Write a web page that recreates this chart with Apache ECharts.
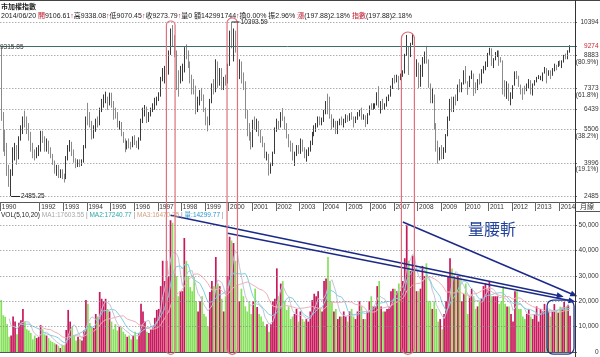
<!DOCTYPE html>
<html><head><meta charset="utf-8">
<script src="https://cdn.jsdelivr.net/npm/echarts@6/dist/echarts.min.js"></script>
<style>html,body{margin:0;padding:0;background:#fff}#c{width:600px;height:357px}</style>
</head><body><div id="c"></div>
<script>
// ---- data: monthly bars from 1990/05 to 2014/06 ----
const startYear = 1990, startMonth = 5, emptySlots = 2;
const firstOpen = 9000;
const monthClose = [
 6100,4800,4600,3600,3150,3500,4400,4530,
 4200,5150,5500,5900,5800,5500,5300,4700,4400,4300,4500,4600,
 5300,5100,4600,4900,4500,4300,4000,3600,3800,3450,3600,3377,
 3300,4200,4600,4850,4500,4100,3900,4050,3900,4050,4700,6070,
 6000,5800,5300,5500,5900,5750,6400,6700,6900,6950,6650,7124,
 6700,6300,6200,5700,5800,5300,5000,4700,4900,4800,4750,5173,
 4900,4700,5050,5900,6300,6450,5900,6200,6400,6500,6800,6933,
 7000,7800,8000,8050,8100,9000,9800,9600,9000,7800,7700,8187,
 8200,9100,8900,8500,7900,7500,7400,6600,6800,7100,7000,6418,
 5900,5800,6800,7500,7300,8400,7700,8100,7600,7800,7700,8448,
 9700,9400,9900,9300,8200,8300,7700,7600,6200,5500,5300,4739,
 5900,5600,5800,5400,5000,4800,4300,4400,3600,3900,4400,5551,
 5800,5700,6200,6000,5700,5200,4900,4800,4200,4400,4700,4452,
 5000,4600,4300,4500,4550,4900,5300,5600,5650,6000,5800,5890,
 6300,6700,6500,6100,5700,5800,5400,5800,5850,5700,5850,6140,
 5900,6200,6000,5800,6000,6200,6300,6000,6100,5800,6200,6548,
 6500,6600,6610,7100,6600,6700,6500,6600,6900,7000,7400,7823,
 7700,7900,7880,7900,8100,8900,9300,8900,9400,9700,8500,8506,
 7500,8400,8600,8900,8600,7500,7000,7050,5700,4900,4460,4591,
 4248,4557,5211,5992,6890,6432,6936,6826,7509,7340,7582,8188,
 7640,7436,7920,8004,7374,7329,7760,7616,8238,8287,8372,8972,
 9145,8600,8683,9007,9064,8652,8644,7741,7225,7588,6904,7072,
 7517,8121,7933,7501,7301,7296,7270,7397,7715,7166,7580,7699,
 7850,7900,7918,8093,8254,8062,8107,8021,8173,8450,8406,8611,
 8462,8639,8849,8791,9075,9273.79
];
const monthHigh = [
 9315.85,6300,5500,4900,3900,3700,4700,4900,
 4800,5200,5700,6100,6365,6100,5800,5400,4900,4600,4700,4800,
 5450,5450,5200,5100,5000,4700,4400,4100,3900,3900,3700,3700,
 3500,4300,4800,5030,4950,4600,4200,4150,4150,4150,4800,6100,
 6719,6300,5900,5700,6000,6100,6500,6900,7100,7228,7000,7183,
 7180,6800,6500,6300,5900,5850,5400,5100,5000,5100,4950,5200,
 5250,5000,5150,6000,6500,6621,6550,6300,6500,6700,6950,7000,
 7200,7900,8300,8400,8600,9100,10100,10256,9800,9100,8200,8400,
 8500,9250,9378,9100,8600,8000,7800,7500,7000,7300,7400,7100,
 6500,6100,6900,7600,7800,8700,8600,8300,8300,7900,8000,8500,
 10000,10393.59,10100,10000,9500,8700,8600,8100,7700,6400,5800,5400,
 5950,6100,6000,5900,5500,5200,4900,4500,4400,4000,4500,5600,
 6000,5900,6300,6484,6100,5800,5300,5000,4900,4500,4800,4800,
 5100,5050,4700,4600,4700,5000,5400,5700,5800,6100,6100,6050,
 6400,6800,7135,7000,6200,6000,5900,5900,6000,6100,6000,6200,
 6150,6250,6300,6100,6100,6300,6400,6500,6200,6150,6250,6600,
 6700,6700,6700,7200,7476,6800,6900,6700,7000,7100,7500,7850,
 7990,8000,7950,8050,8200,8950,9807,9300,9450,9859,9700,8700,
 8550,8450,8800,9050,9309,8700,7600,7400,7100,5800,5000,4700,
 4800,4700,5300,6100,6900,7000,7000,7100,7550,7800,7650,8200,
 8395,7700,7950,8190,8050,7650,7800,8050,8250,8400,8600,8990,
 9220,9200,8750,9030,9100,9100,8800,8650,7750,7700,7600,7200,
 7520,8150,8170,7950,7550,7400,7500,7600,7800,7750,7600,7750,
 7900,7980,7950,8100,8350,8300,8200,8200,8300,8500,8450,8620,
 8650,8650,8900,8960,9110,9338.08
];
const monthLow = [
 5900,4500,4300,3400,2900,2485.25,3400,4100,
 3900,4150,5000,5300,5600,5300,5000,4500,4200,4100,4200,4300,
 4500,4900,4500,4500,4400,4200,3900,3500,3400,3300,3300,3250,
 3098,3250,4100,4500,4300,4000,3750,3800,3800,3850,4000,4650,
 5700,5600,5050,5100,5400,5600,5700,6300,6500,6700,6400,6600,
 6500,5950,6000,5600,5500,5200,4900,4474,4600,4650,4600,4700,
 4800,4670,4600,5000,5800,6100,5800,5850,6100,6300,6400,6600,
 6800,7000,7700,7600,7900,8000,8900,9300,8800,7300,7000,7600,
 7700,8100,8700,8300,7600,7100,7100,6200,6300,6600,6800,6300,
 5700,5422,5700,6700,7100,7200,7400,7500,7300,7300,7500,7600,
 8400,9200,8600,9000,8000,7800,7600,7300,6000,5200,5000,4600,
 4700,5500,5400,5200,4900,4700,4200,4100,3411,3500,3850,4400,
 5400,5500,5600,5900,5500,5100,4700,4500,4100,3850,4300,4400,
 4400,4500,4200,4044,4300,4500,4800,5200,5400,5600,5700,5700,
 5850,6200,6200,6000,5500,5600,5300,5300,5700,5700,5600,5800,
 5850,5900,5950,5600,5800,5950,6100,5950,5950,5618,5750,6150,
 6400,6400,6450,6600,6500,6232,6400,6400,6550,6800,7000,7350,
 7600,7650,7300,7750,7900,8050,8850,7987,8800,9350,8200,7900,
 7384,7450,7900,8500,8500,7400,6700,6700,5500,4500,3955,4100,
 4150,4164,4450,5200,5900,6300,6300,6600,6800,7200,7200,7550,
 7600,7080,7430,7800,7032,7150,7300,7550,7600,8050,8200,8350,
 8900,8400,8300,8650,8800,8400,8550,7100,7000,6900,6800,6609,
 6900,7500,7800,7450,7100,6857,7100,7250,7380,7100,7050,7500,
 7650,7800,7750,7700,8050,7600,7950,7800,7950,8150,8200,8350,
 8400,8300,8550,8700,8700,9000
];
const monthVolume = [
 20500,14500,13900,11000,6000,6500,14000,12000,
 7000,11500,12500,17000,12000,9000,8500,7500,5000,6500,5500,6000,
 10600,9000,7000,6500,5500,4500,4000,3500,3000,2500,1600,2800,
 2500,8700,16600,12000,10000,6500,4500,6000,5000,4500,8500,20500,
 19000,11400,10000,9500,15000,14000,23700,21000,20000,21000,17000,16000,
 12000,9000,11000,8500,10000,9500,8000,7000,6000,6500,5000,6500,
 8000,5000,7500,19000,16000,12000,8000,7500,9000,10000,13500,16600,
 17000,26000,36000,28000,36000,30000,52000,51000,31000,30000,22000,24000,
 24000,45000,36000,30000,25600,24000,29600,20000,16000,20000,22000,15000,
 14000,10000,23700,28000,26000,37500,27000,26000,21000,16000,22000,30000,
 45500,44000,43000,36000,26000,20000,25000,22000,18000,16000,20000,15000,
 20000,25000,17800,15000,14000,12000,10000,11000,8000,11000,20000,21000,
 33000,22000,27000,28000,20000,16600,18000,13000,14000,15000,17000,12000,
 16000,13000,12000,13000,12000,16000,20500,23000,22000,24000,17000,16000,
 28000,29000,37500,28000,20000,16000,17000,13000,14000,14000,16000,14000,
 12000,16000,17000,14000,13000,16000,20000,18000,13000,13000,16000,20000,
 22000,18000,18000,26000,28000,18000,16000,16000,17000,18000,24000,25000,
 25000,24000,27000,24000,28000,37000,50000,36000,32000,38000,33000,24000,
 24000,25000,34000,30000,35000,20000,20000,17000,20000,17000,12000,13000,
 9000,15000,20000,30000,37000,33000,30000,29000,30000,29000,20000,23000,
 27000,15000,22000,25000,22000,17000,18000,20000,21000,26000,27000,25000,
 28000,22000,22000,22000,22000,19000,20000,26000,19000,18000,18000,15000,
 12000,24000,24000,17000,17000,14000,13000,15000,17000,14000,13000,15000,
 18000,12000,17000,16000,19000,17000,16000,14000,15800,18900,16300,15500,
 17890,17500,19800,17800,18618,14300
];
const fibLevels = [10394, 8883, 7373, 6439, 5506, 3996, 2485];
const fibPercentLevels = [8883, 7373, 5506, 3996];
const fibPercentLabels = ['(80.9%)', '(61.8%)', '(38.2%)', '(19.1%)'];
const lastPrice = 9273.79;
const volTicks = [0, 10000, 20000, 30000, 40000, 50000];
const maPeriods = [5, 10, 20];
const titleLine1 = '市加權指數';
const volLegend = ['VOL(5,10,20)', 'MA1:17603.55', 'MA2:17240.77', 'MA3:16470.35', '量:14299.77'];

// ---- derived ----
const cats = [];
for (let i = 0; i < monthClose.length + emptySlots; i++) {
  const t = startMonth - 1 + i;
  const y = startYear + Math.floor(t / 12), m = t % 12 + 1;
  cats.push(y + '/' + (m < 10 ? '0' + m : m));
}
const candles = monthClose.map((c, i) => {
  const o = i === 0 ? firstOpen : monthClose[i - 1];
  return [o, c, monthLow[i], monthHigh[i]];
});
const UP_VOL = '#c8195c', DN_VOL = '#86e05c';
const volData = monthVolume.map((v, i) => ({
  value: v, itemStyle: { color: candles[i][1] >= candles[i][0] ? UP_VOL : DN_VOL }
}));
function ma(n) {
  return monthVolume.map((v, i) => {
    if (i < n - 1) return '-';
    let s = 0; for (let k = i - n + 1; k <= i; k++) s += monthVolume[k];
    return +(s / n).toFixed(2);
  });
}
const showYear = (idx) => {
  if (idx === 0) return true;
  const c = cats[idx]; return c && c.slice(5) === '01' && +c.slice(0, 4) >= 1992;
};

const FONT = "'Liberation Sans','Noto Sans CJK TC',sans-serif";
const PMIN = 2212.2, PMAX = 11348.5, VMAX = 55643;
const PCT_SHIFT = 300;

const chart = echarts.init(document.getElementById('c'), null, { renderer: 'canvas' });
chart.setOption({
  animation: false,
  backgroundColor: '#fff',
  grid: [
    { left: 0.3, right: 25, top: 1, height: 201, containLabel: false, outerBoundsMode: 'none' },
    { left: 0.3, right: 25, top: 211, height: 141, containLabel: false, outerBoundsMode: 'none' }
  ],
  xAxis: [
    { type: 'category', gridIndex: 0, data: cats, boundaryGap: true, position: 'bottom',
      axisLine: { show: true, lineStyle: { color: '#555', width: 1 } },
      axisTick: { show: true, interval: (i) => showYear(i), length: 9, lineStyle: { color: '#666' } },
      axisLabel: { interval: (i) => showYear(i), formatter: (v) => v.slice(0, 4), align: 'left',
        fontSize: 6.5, color: '#333', margin: 2, fontFamily: FONT, padding: [0, 0, 0, 0.5] },
      splitLine: { show: false } },
    { type: 'category', gridIndex: 1, data: cats, boundaryGap: true, position: 'top',
      axisLine: { show: true, lineStyle: { color: '#555', width: 1 } },
      axisTick: { show: false }, axisLabel: { show: false }, splitLine: { show: false } }
  ],
  yAxis: [
    { type: 'value', gridIndex: 0, position: 'right', min: PMIN, max: PMAX, scale: true,
      axisLine: { show: true, lineStyle: { color: '#333' } },
      axisTick: { show: true, length: 2, customValues: fibLevels.concat([lastPrice]), lineStyle: { color: '#666' } },
      axisLabel: { show: true, customValues: fibLevels.concat([lastPrice]), fontSize: 6.5, margin: 23.5, align: 'right', fontFamily: FONT,
        formatter: (v) => Math.abs(v - lastPrice) < 1 ? '{r|' + Math.round(v) + '}' : '{n|' + Math.round(v) + '}',
        rich: { r: { color: '#d0202a', fontSize: 6.5, fontFamily: FONT }, n: { color: '#333', fontSize: 6.5, fontFamily: FONT } } },
      splitLine: { show: false } },
    { type: 'value', gridIndex: 0, position: 'right', min: PMIN, max: PMAX,
      axisLine: { show: false }, axisTick: { show: false },
      axisLabel: { show: true, customValues: fibPercentLevels.map(v => v - PCT_SHIFT), fontSize: 6.5, margin: 23.5, align: 'right', color: '#333', fontFamily: FONT,
        formatter: (v) => { let best = 0; fibPercentLevels.forEach((l, k) => { if (Math.abs(l - PCT_SHIFT - v) < Math.abs(fibPercentLevels[best] - PCT_SHIFT - v)) best = k; }); return fibPercentLabels[best]; } },
      splitLine: { show: false } },
    { type: 'value', gridIndex: 1, position: 'right', min: 0, max: VMAX,
      axisLine: { show: true, lineStyle: { color: '#333' } },
      axisTick: { show: true, length: 2, customValues: volTicks, lineStyle: { color: '#666' } },
      axisLabel: { show: true, customValues: volTicks, fontSize: 6.5, margin: 23.5, align: 'right', color: '#333', fontFamily: FONT },
      splitLine: { show: false } }
  ],
  series: [
    { type: 'candlestick', xAxisIndex: 0, yAxisIndex: 0, data: candles, barWidth: 1, z: 3,
      itemStyle: { color: '#3a3a3a', color0: '#a6a6a6', borderColor: '#3a3a3a', borderColor0: '#8a8a8a', borderWidth: 1 },
      markLine: { silent: true, symbol: ['none', 'none'], label: { show: false }, animation: false,
        data: fibLevels.map(v => ({ yAxis: v, lineStyle: { type: [1, 2], color: '#8a8a8a', width: 1 } }))
          .concat([{ yAxis: lastPrice, lineStyle: { type: 'solid', color: '#3f6e66', width: 1 } }]) } },
    { type: 'bar', xAxisIndex: 1, yAxisIndex: 2, data: volData, barWidth: 1.7, z: 2,
      markLine: { silent: true, symbol: ['none', 'none'], label: { show: false }, animation: false,
        data: volTicks.slice(1).map(v => ({ yAxis: v, lineStyle: { type: [1, 2], color: '#8a8a8a', width: 1 } })) } },
    { type: 'line', xAxisIndex: 1, yAxisIndex: 2, data: ma(maPeriods[0]), symbol: 'none', z: 4,
      lineStyle: { color: '#c4c4d8', width: 1 } },
    { type: 'line', xAxisIndex: 1, yAxisIndex: 2, data: ma(maPeriods[1]), symbol: 'none', z: 4,
      lineStyle: { color: '#82cfe0', width: 1 } },
    { type: 'line', xAxisIndex: 1, yAxisIndex: 2, data: ma(maPeriods[2]), symbol: 'none', z: 4,
      lineStyle: { color: '#eeb0b8', width: 1 } },
    { type: 'line', xAxisIndex: 1, yAxisIndex: 2, data: [], z: 6,
      markLine: { silent: true, symbol: ['none', 'triangle'], symbolSize: [6, 7], label: { show: false }, animation: false,
        lineStyle: { color: '#1b2a88', width: 1.5, type: 'solid' }, itemStyle: { color: '#2448c0' },
        data: [
          [{ coord: [85.7, 54000] }, { coord: [283.9, 22100] }],
          [{ coord: [114.7, 46900] }, { coord: [290.0, 20100] }],
          [{ coord: [204.1, 51300] }, { coord: [290.5, 22500] }]
        ] } }
  ]
});

// ---- annotations positioned through the chart's own coordinate conversion ----
function px(gi, i, v) { return chart.convertToPixel({ gridIndex: gi }, [i, v]); }
const xa = px(0, 0, 5000)[0], xb = px(0, 1, 5000)[0], step = xb - xa;
const xAt = (i) => xa + i * step;
const yP = (v) => px(0, 0, v)[1];
const yV = (v) => px(1, 0, v)[1];

const g = [];
g.push({ type: 'line', shape: { x1: 0, y1: 0.5, x2: 600, y2: 0.5 }, style: { stroke: '#444', lineWidth: 1 }, z: 10 });
g.push({ type: 'line', shape: { x1: 575.5, y1: 0, x2: 575.5, y2: 357 }, style: { stroke: '#333', lineWidth: 1 }, z: 10 });
g.push({ type: 'line', shape: { x1: 575, y1: yP(PMIN) + 0.5, x2: 600, y2: yP(PMIN) + 0.5 }, style: { stroke: '#555', lineWidth: 1 }, z: 10 });
g.push({ type: 'line', shape: { x1: 575, y1: yV(VMAX) + 0.5, x2: 600, y2: yV(VMAX) + 0.5 }, style: { stroke: '#555', lineWidth: 1 }, z: 10 });
g.push({ type: 'text', x: 580, y: (yP(PMIN) + yV(VMAX)) / 2 + 0.5, style: { text: '月線', fontSize: 7, fontFamily: FONT, fill: '#333', verticalAlign: 'middle' }, z: 10 });
g.push({ type: 'text', x: 1, y: 7, style: { text: titleLine1, fontSize: 7, fontWeight: 'bold', fontFamily: FONT, fill: '#222', verticalAlign: 'middle' }, z: 10 });
g.push({ type: 'text', x: 1, y: 16, style: { fontSize: 7, fontFamily: FONT, verticalAlign: 'middle',
  rich: { d: { fill: '#222', fontSize: 7, fontFamily: FONT }, r: { fill: '#c0182a', fontSize: 7, fontFamily: FONT } },
  text: '{d|2014/06/20 }{r|開}{d|9106.61}{r|↑}{d|高9338.08}{r|↑}{d|低9070.45}{r|↑}{d|收9273.79}{r|↑}{d|量0 額142991744}{r|↑}{d|換0.00% 振2.96% }{r|漲}{d|(197.88)2.18% }{r|指數}{d|(197.88)2.18%}' }, z: 10 });
g.push({ type: 'text', x: 1, y: 215, style: { fontSize: 6.5, fontFamily: FONT, verticalAlign: 'middle',
  rich: { k: { fill: '#222', fontSize: 6.5, fontFamily: FONT }, a: { fill: '#a8a8a8', fontSize: 6.5, fontFamily: FONT },
    b: { fill: '#2fa6a6', fontSize: 6.5, fontFamily: FONT }, c: { fill: '#d4a080', fontSize: 6.5, fontFamily: FONT },
    q: { fill: '#2a98c8', fontSize: 6.5, fontFamily: FONT }, s: { fill: '#888', fontSize: 6.5, fontFamily: FONT } },
  text: '{k|' + volLegend[0] + '} {a|' + volLegend[1] + '}{s| | }{b|' + volLegend[2] + '}{s| | }{c|' + volLegend[3] + '}{s| | }{q|' + volLegend[4] + '}{s| |}' }, z: 10 });
const iFirst = 0, iLow = monthLow.indexOf(Math.min.apply(null, monthLow)), iHigh = monthHigh.indexOf(Math.max.apply(null, monthHigh));
g.push({ type: 'text', x: 0, y: yP(monthHigh[iFirst]) + 1.5, style: { text: String(monthHigh[iFirst]), fontSize: 6.5, fontFamily: FONT, fill: '#333', verticalAlign: 'middle' }, z: 10 });
g.push({ type: 'line', shape: { x1: xAt(iLow), y1: yP(monthLow[iLow]) + 0.5, x2: xAt(iLow) + 9, y2: yP(monthLow[iLow]) + 0.5 }, style: { stroke: '#222', lineWidth: 1 }, z: 10 });
g.push({ type: 'text', x: xAt(iLow) + 10, y: yP(monthLow[iLow]) + 0.5, style: { text: monthLow[iLow].toFixed(2), fontSize: 6.5, fontFamily: FONT, fill: '#222', verticalAlign: 'middle' }, z: 10 });
g.push({ type: 'line', shape: { x1: xAt(iHigh), y1: yP(monthHigh[iHigh]), x2: xAt(iHigh) + 8, y2: yP(monthHigh[iHigh]) }, style: { stroke: '#222', lineWidth: 1 }, z: 10 });
g.push({ type: 'text', x: xAt(iHigh) + 9, y: yP(monthHigh[iHigh]), style: { text: monthHigh[iHigh].toFixed(2), fontSize: 6.5, fontFamily: FONT, fill: '#222', verticalAlign: 'middle' }, z: 10 });
const peakBoxes = [[83.9, 88.3, 10440], [114.7, 120.0, 10580], [203.3, 209.9, 9940]];
peakBoxes.forEach(b => {
  const x1 = xAt(b[0]), x2 = xAt(b[1]), y1 = yP(b[2]), y2 = yV(-900);
  g.push({ type: 'rect', shape: { x: x1, y: y1, width: x2 - x1, height: y2 - y1, r: (x2 - x1) / 2 },
    style: { fill: 'none', stroke: '#e0707c', lineWidth: 1.2 }, z: 9 });
});
{
  const x1 = xAt(277.3), x2 = xAt(291.0), y1 = yV(20500), y2 = yV(-800);
  g.push({ type: 'rect', shape: { x: x1, y: y1, width: x2 - x1, height: y2 - y1, r: 6 },
    style: { fill: 'none', stroke: '#1f3a93', lineWidth: 1.3 }, z: 9 });
}
g.push({ type: 'text', x: 492, y: 228.5, style: { text: '量腰斬', fontSize: 16, fontFamily: "'Noto Sans CJK TC',sans-serif", fill: '#23439b', align: 'center', verticalAlign: 'middle' }, z: 10 });
chart.setOption({ graphic: g });
</script></body></html>
